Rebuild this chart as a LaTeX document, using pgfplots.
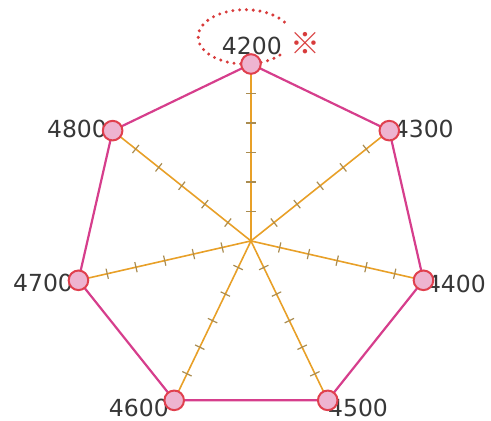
\documentclass[border=0pt]{standalone}
\usepackage{pgfplots}
\pgfplotsset{compat=1.18}
\usepackage{fontspec}
\setmainfont{DejaVu Sans}
\newfontfamily\cjk{Noto Sans CJK JP}
\definecolor{edge}{RGB}{214,62,140}
\definecolor{dotfill}{RGB}{238,180,208}
\definecolor{dotline}{RGB}{224,64,78}
\definecolor{spoke}{RGB}{232,160,40}
\definecolor{tickc}{RGB}{170,140,80}
\definecolor{refred}{RGB}{216,60,60}
\definecolor{txt}{RGB}{55,55,55}

\begin{document}
\begin{tikzpicture}
\begin{axis}[
    name=ax,
    x=14.75bp, y=14.75bp,
    xmin=-8.51, xmax=8.14,
    ymin=-6.10, ymax=8.17,
    hide axis,
    clip=false,
]
% spokes with 5 ticks each (angle, radius)
\pgfplotsinvokeforeach{90,38.571,-12.857,-64.286,-115.714,-167.143,141.429}{
  \addplot[spoke, line width=0.8bp, data cs=polar] coordinates {(#1,0) (#1,6)};
  \addplot[only marks, data cs=polar, mark=|, mark size=2.6bp,
      mark options={rotate=#1, tickc, line width=0.6bp}]
      coordinates {(#1,1) (#1,2) (#1,3) (#1,4) (#1,5)};
}
% outline
\addplot[edge, line width=1.1bp, data cs=polar] coordinates {
  (90,6) (38.571,6) (-12.857,6) (-64.286,6) (-115.714,6) (-167.143,6) (141.429,6) (90,6)};
% vertices
\addplot[only marks, data cs=polar, mark=*, mark size=4.9bp,
    mark options={fill=dotfill, draw=dotline, line width=1bp}] coordinates {
  (90,6) (38.571,6) (-12.857,6) (-64.286,6) (-115.714,6) (-167.143,6) (141.429,6)};

\begin{scope}[font=\fontsize{11.8}{13}\selectfont, text=txt, inner sep=1bp]
\node at (axis cs:0.03,6.61) {4200};
\node at (axis cs:5.86,3.80) {4300};
\node at (axis cs:6.95,-1.46) {4400};
\node at (axis cs:3.63,-5.66) {4500};
\node at (axis cs:-3.80,-5.68) {4600};
\node at (axis cs:-7.05,-1.42) {4700};
\node at (axis cs:-5.90,3.80) {4800};
\end{scope}

% dotted ring and reference mark
\draw[refred, line width=1.7bp, line cap=round, dash pattern=on 0pt off 3.4bp]
  (axis cs:-0.20,6.92) ++(33:23.5bp and 13.6bp)
  arc[start angle=33, end angle=322, x radius=23.5bp, y radius=13.6bp];
\node[text=refred, font=\cjk\bfseries\fontsize{15}{16}\selectfont] at (axis cs:1.86,6.68) {※};
\end{axis}
\pgfresetboundingbox
\path (ax.south west) rectangle (ax.north east);
\end{tikzpicture}
\end{document}
